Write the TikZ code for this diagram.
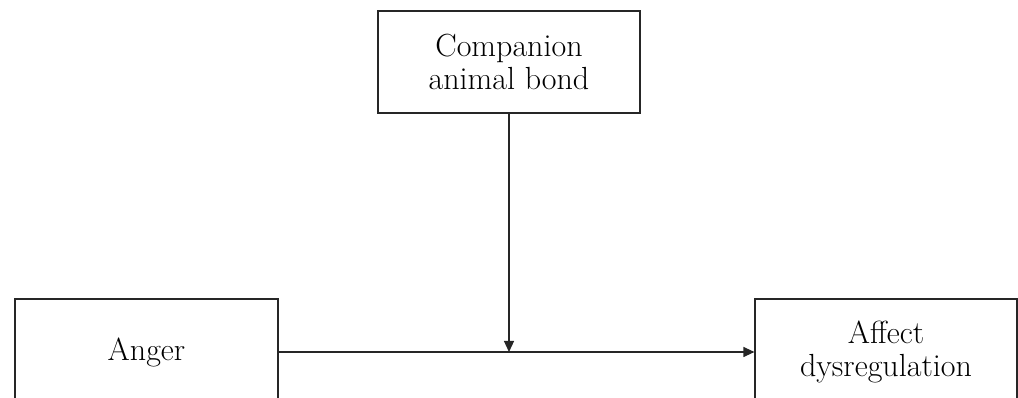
\documentclass[tikz,border=0pt]{standalone}
\usetikzlibrary{arrows.meta}
\begin{document}
\begin{tikzpicture}[x=1pt,y=1pt,
  box/.style={draw=black!85, line width=1.2pt, fill=white, align=center,
    font=\fontsize{32}{33}\selectfont, inner sep=0pt},
  link/.style={draw=black!85, line width=1.2pt,
    -{Triangle[length=11pt,width=10pt]}}]
  \useasboundingbox (0,0) rectangle (1018,398);
  \begin{scope}
    \clip (0,0) rectangle (1018,398);
    % moderator at the top
    \node[box, minimum width=262pt, minimum height=102pt] (bond) at (509,336)
      {Companion\\animal bond};
    % predictor and outcome, running off the lower edge
    \node[box, minimum width=263pt, minimum height=106pt] (anger) at (146.5,46) {Anger};
    \node[box, minimum width=262pt, minimum height=106pt] (affect) at (886,46)
      {Affect\\dysregulation};
    \coordinate (meet) at (bond.south |- anger.east);
    \draw[link] (anger.east) -- (affect.west);
    \draw[link] (bond.south) -- (meet);
  \end{scope}
\end{tikzpicture}
\end{document}
